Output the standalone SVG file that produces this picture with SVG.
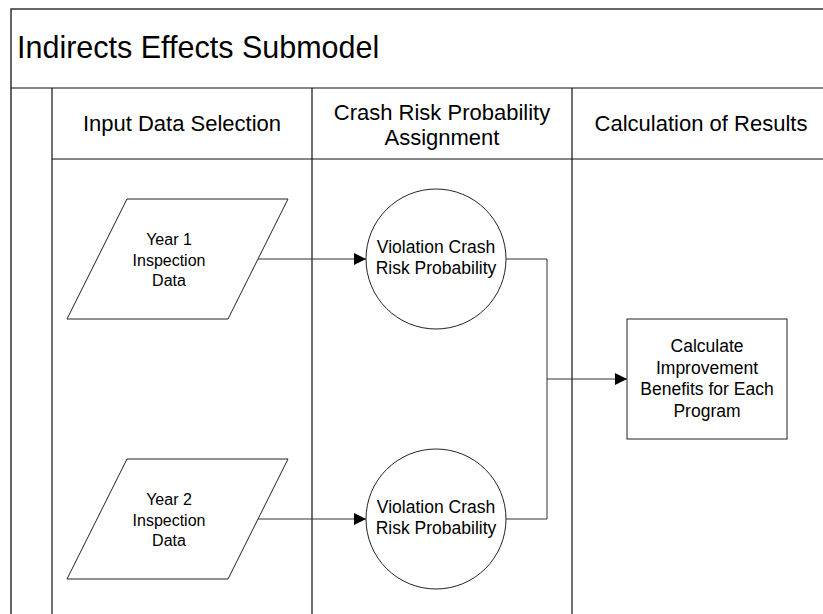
<svg xmlns="http://www.w3.org/2000/svg" width="823" height="614" viewBox="0 0 823 614">
  <style>
    text { font-family: "Liberation Sans", Arial, sans-serif; fill: #000; text-anchor: middle; }
    .title { font-size: 30.5px; text-anchor: start; }
    .lane-head { font-size: 22px; }
    .lbl { font-size: 17.5px; }
    .lbl-io { font-size: 16px; }
    .frame { fill: none; stroke: #333; stroke-width: 1.5; }
    .rule { fill: none; stroke: #111; stroke-width: 1.2; }
    .shape { fill: #fff; stroke: #222; stroke-width: 1; }
    .conn { fill: none; stroke: #333; stroke-width: 1; }
  </style>
  <defs>
    <marker id="arrow" viewBox="0 0 12 12" refX="12" refY="6" markerWidth="12" markerHeight="12" markerUnits="userSpaceOnUse" orient="auto">
      <path d="M0,0 L12,6 L0,12 Z" fill="#000"/>
    </marker>
  </defs>

  <rect width="823" height="614" fill="#fff"/>

  <!-- Pool frame and lanes -->
  <g id="pool">
    <path class="frame" d="M11,620 V9 H830"/>
    <path class="rule" d="M11,88 H830"/>
    <path class="rule" d="M52,88 V620"/>
    <path class="rule" d="M52,159 H830"/>
    <path class="rule" d="M312,88 V620"/>
    <path class="rule" d="M572,88 V620"/>
    <text class="title" x="17" y="58">Indirects Effects Submodel</text>
    <text class="lane-head" x="182" y="131">Input Data Selection</text>
    <text class="lane-head" x="442" y="120">Crash Risk Probability</text>
    <text class="lane-head" x="442" y="145">Assignment</text>
    <text class="lane-head" x="701" y="131">Calculation of Results</text>
  </g>

  <!-- Connectors -->
  <g id="connectors">
    <path class="conn" d="M258,259 H366" marker-end="url(#arrow)"/>
    <path class="conn" d="M258,519 H366" marker-end="url(#arrow)"/>
    <path class="conn" d="M506,259 H547 V519 H506"/>
    <path class="conn" d="M547,379 H627" marker-end="url(#arrow)"/>
  </g>

  <!-- Nodes -->
  <g id="year1-data">
    <polygon class="shape" points="127,199 288,199 228,319 67,319"/>
    <text class="lbl-io" x="169" y="245">Year 1</text>
    <text class="lbl-io" x="169" y="265.5">Inspection</text>
    <text class="lbl-io" x="169" y="286">Data</text>
  </g>

  <g id="year2-data">
    <polygon class="shape" points="127,459 288,459 228,579 67,579"/>
    <text class="lbl-io" x="169" y="505">Year 2</text>
    <text class="lbl-io" x="169" y="525.5">Inspection</text>
    <text class="lbl-io" x="169" y="546">Data</text>
  </g>

  <g id="risk-prob-1">
    <circle class="shape" cx="436" cy="259" r="70"/>
    <text class="lbl" x="436" y="253">Violation Crash</text>
    <text class="lbl" x="436" y="274">Risk Probability</text>
  </g>

  <g id="risk-prob-2">
    <circle class="shape" cx="436" cy="519" r="70"/>
    <text class="lbl" x="436" y="513">Violation Crash</text>
    <text class="lbl" x="436" y="534">Risk Probability</text>
  </g>

  <g id="calc-benefits">
    <rect class="shape" x="627" y="319" width="160" height="120"/>
    <text class="lbl" x="707" y="352">Calculate</text>
    <text class="lbl" x="707" y="373.5">Improvement</text>
    <text class="lbl" x="707" y="395">Benefits for Each</text>
    <text class="lbl" x="707" y="416.5">Program</text>
  </g>
</svg>
